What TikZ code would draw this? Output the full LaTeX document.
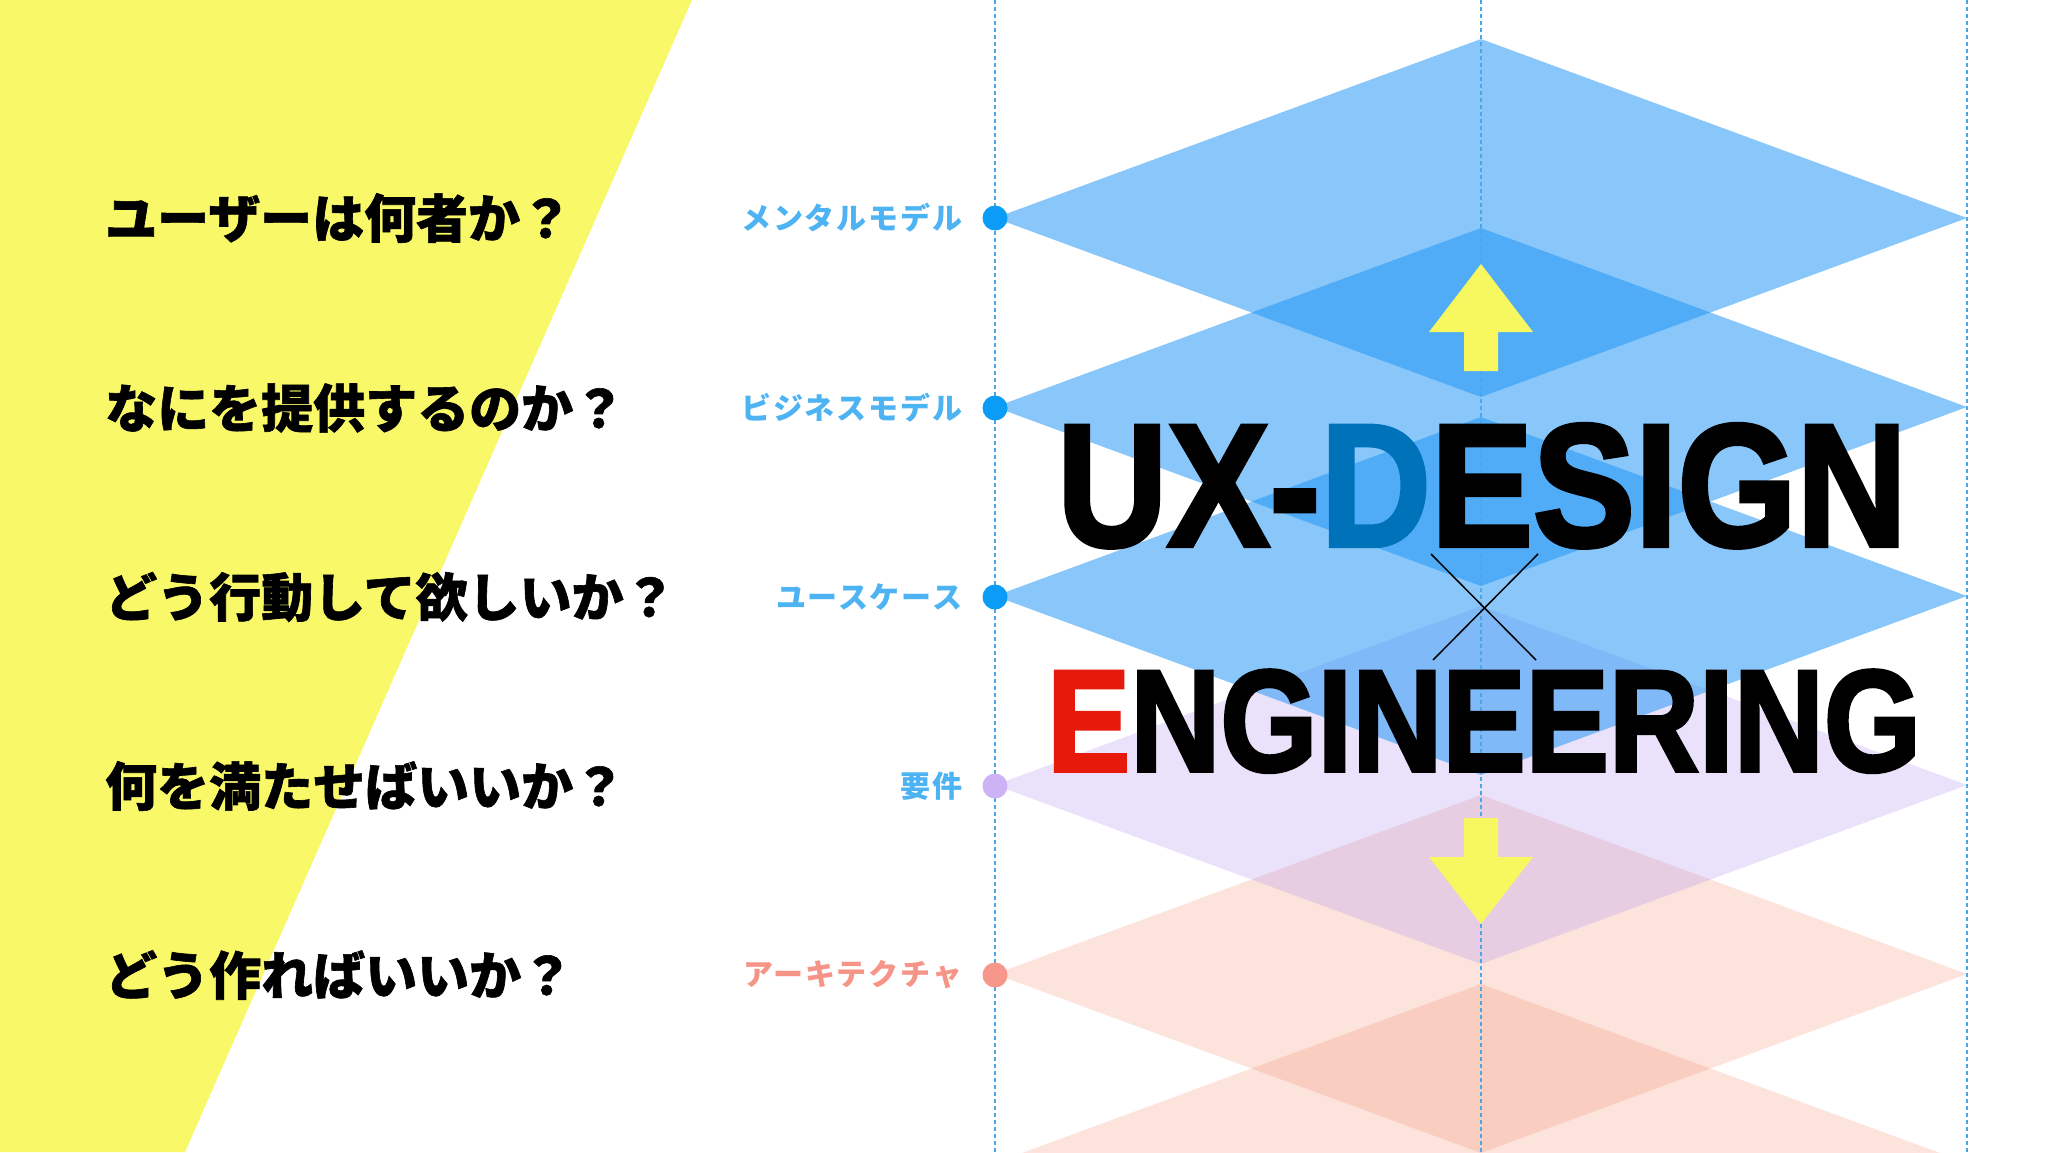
\documentclass[tikz,border=0pt]{standalone}
\usepackage{fontspec}
\setmainfont{Liberation Sans}
\newfontfamily\jp{Noto Sans CJK JP}
\usetikzlibrary{positioning}
\definecolor{bgyellow}{RGB}{249,248,104}
\definecolor{layerblue}{RGB}{30,149,247}
\definecolor{layerpurple}{RGB}{180,150,240}
\definecolor{layerorange}{RGB}{245,130,100}
\definecolor{dotblue}{RGB}{10,156,247}
\definecolor{dotpurple}{RGB}{205,178,245}
\definecolor{dotorange}{RGB}{247,150,138}
\definecolor{labelblue}{RGB}{77,179,242}
\definecolor{labelorange}{RGB}{247,148,136}
\definecolor{guide}{RGB}{74,168,232}
\definecolor{arrowyellow}{RGB}{247,247,96}
\definecolor{designblue}{RGB}{0,114,186}
\definecolor{engred}{RGB}{230,25,10}

\begin{document}
\begin{tikzpicture}[x=1pt,y=-1pt,
    question/.style={anchor=west, inner sep=0pt, font=\jp\bfseries\fontsize{52}{60}\selectfont\addfontfeature{FakeBold=1.2}},
    layerlabel/.style={anchor=east, inner sep=0pt, font=\jp\bfseries\fontsize{30}{36}\selectfont\addfontfeature{LetterSpace=6}},
    layerdot/.style={circle, minimum size=25pt, inner sep=0pt},
    guideline/.style={guide, line width=1.5pt, dash pattern=on 4pt off 3pt},
    bigword/.style={anchor=base, inner sep=0pt, font=\bfseries\fontsize{100}{100}\selectfont\addfontfeature{FakeBold=2.5}}]
    \useasboundingbox (0,0) rectangle (2048,1152);
    \fill[white] (0,0) rectangle (2048,1152);
    \fill[bgyellow] (0,0) -- (692,0) -- (185,1152) -- (0,1152) -- cycle;
    % layers, lowest first
    \foreach \k/\col/\op in {5/layerorange/0.22, 4/layerorange/0.22, 3/layerpurple/0.28, 2/layerblue/0.52, 1/layerblue/0.52, 0/layerblue/0.52}
      \fill[\col, fill opacity=\op] (995,218+189*\k) -- (1481,39+189*\k) -- (1967,218+189*\k) -- (1481,397+189*\k) -- cycle;
    \foreach \x in {995,1481,1967}
      \draw[guideline] (\x,0) -- (\x,1152);
    % arrows
    \fill[arrowyellow] (1481,264) -- (1533,332) -- (1498,332) -- (1498,371) -- (1464,371) -- (1464,332) -- (1429,332) -- cycle;
    \fill[arrowyellow] (1464,818) -- (1498,818) -- (1498,857) -- (1533,857) -- (1481,924) -- (1429,857) -- (1464,857) -- cycle;
    % dots and labels
    \node[layerdot, fill=dotblue] (d1) at (995,218) {};
    \node[layerdot, fill=dotblue] (d2) at (995,408) {};
    \node[layerdot, fill=dotblue] (d3) at (995,597) {};
    \node[layerdot, fill=dotpurple] (d4) at (995,786) {};
    \node[layerdot, fill=dotorange] (d5) at (995,975) {};
    \node[layerlabel, text=labelblue, left=20pt of d1] (l1) {メンタルモデル};
    \node[layerlabel, text=labelblue, left=20pt of d2] (l2) {ビジネスモデル};
    \node[layerlabel, text=labelblue, left=20pt of d3] (l3) {ユースケース};
    \node[layerlabel, text=labelblue, left=20pt of d4] (l4) {要件};
    \node[layerlabel, text=labelorange, left=20pt of d5] (l5) {アーキテクチャ};
    % questions
    \node[question] (q1) at (105,218) {ユーザーは何者か？};
    \node[question] (q2) at (105,408) {なにを提供するのか？};
    \node[question] (q3) at (105,597) {どう行動して欲しいか？};
    \node[question] (q4) at (105,786) {何を満たせばいいか？};
    \node[question] (q5) at (105,975) {どう作ればいいか？};
    % title
    \node[bigword] (ux) at (1482,546) {\resizebox{850pt}{122pt}{UX-\textcolor{designblue}{D}ESIGN}};
    \node[bigword] (eng) at (1484,771) {\resizebox{874pt}{101pt}{\textcolor{engred}{E}NGINEERING}};
    \coordinate (c1) at (1431,554);
    \coordinate (c2) at (1536,660);
    \coordinate (c3) at (1538,554);
    \coordinate (c4) at (1433,660);
    \draw[line width=1.5pt] (c1) -- (c2);
    \draw[line width=1.5pt] (c3) -- (c4);
\end{tikzpicture}
\end{document}
